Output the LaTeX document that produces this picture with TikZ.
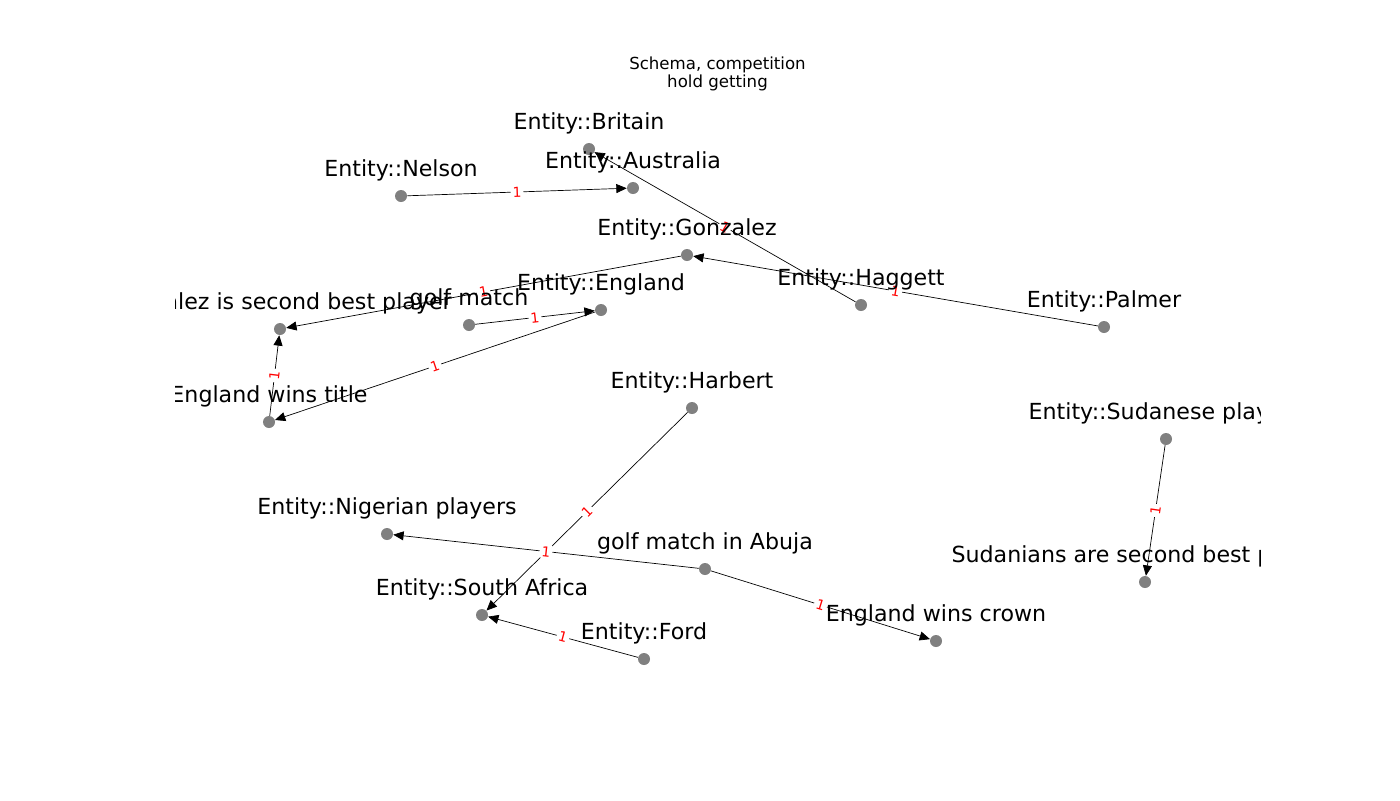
\documentclass[tikz,border=0pt]{standalone}
\usepackage{fontspec}
\setmainfont{DejaVu Sans}
\usetikzlibrary{arrows.meta}

\begin{document}
\begin{tikzpicture}[
    x=0.254mm, y=-0.254mm,
    vertex/.style={circle, fill=gray, minimum size=3.05mm, inner sep=0pt},
    vname/.style={anchor=base, yshift=4.9mm, inner sep=0pt, font=\fontsize{16}{19}\selectfont},
    edge/.style={-{Triangle[length=7.5pt, width=6.5pt]}, line width=0.5pt},
    wlabel/.style={sloped, midway, fill=white, text=red, inner sep=1.5pt, rounded corners=2pt, font=\fontsize{10}{12}\selectfont}
  ]
  \useasboundingbox (0,0) rectangle (1400,800);

  % Title
  \node[align=center, anchor=base, inner sep=0pt, font=\fontsize{12}{11.5}\selectfont] (title) at (717.5,87)
    {Schema, competition\\hold getting};

  \begin{scope}
  \clip (175,96) rectangle (1260,712);

  % Vertices
  \node[vertex] (britain) at (589,149) {};
  \node[vertex] (australia) at (633,188) {};
  \node[vertex] (nelson) at (401,196) {};
  \node[vertex] (gonzalez) at (687,255) {};
  \node[vertex] (haggett) at (861,305) {};
  \node[vertex] (palmer) at (1104,327) {};
  \node[vertex] (england) at (601,310) {};
  \node[vertex] (golf) at (469,325) {};
  \node[vertex] (gonzbest) at (280,329) {};
  \node[vertex] (engtitle) at (269,422) {};
  \node[vertex] (harbert) at (692,408) {};
  \node[vertex] (sudanese) at (1166,439) {};
  \node[vertex] (sudanians) at (1145,582) {};
  \node[vertex] (nigerian) at (387,534) {};
  \node[vertex] (abuja) at (705,569) {};
  \node[vertex] (safrica) at (482,615) {};
  \node[vertex] (ford) at (644,659) {};
  \node[vertex] (engcrown) at (936,641) {};

  % Edges with weights
  \draw[edge] (nelson) to node[wlabel] {1} (australia);
  \draw[edge] (haggett) to node[wlabel] {1} (britain);
  \draw[edge] (palmer) to node[wlabel] {1} (gonzalez);
  \draw[edge] (gonzalez) to node[wlabel] {1} (gonzbest);
  \draw[edge] (golf) to node[wlabel] {1} (england);
  \draw[edge] (england) to node[wlabel] {1} (engtitle);
  \draw[edge] (engtitle) to node[wlabel] {1} (gonzbest);
  \draw[edge] (harbert) to node[wlabel] {1} (safrica);
  \draw[edge] (abuja) to node[wlabel] {1} (nigerian);
  \draw[edge] (abuja) to node[wlabel] {1} (engcrown);
  \draw[edge] (ford) to node[wlabel] {1} (safrica);
  \draw[edge] (sudanese) to node[wlabel] {1} (sudanians);

  % Vertex names
  \node[vname] (britain-t) at (britain) {Entity::Britain};
  \node[vname] (australia-t) at (australia) {Entity::Australia};
  \node[vname] (nelson-t) at (nelson) {Entity::Nelson};
  \node[vname] (gonzalez-t) at (gonzalez) {Entity::Gonzalez};
  \node[vname] (haggett-t) at (haggett) {Entity::Haggett};
  \node[vname] (palmer-t) at (palmer) {Entity::Palmer};
  \node[vname] (england-t) at (england) {Entity::England};
  \node[vname] (golf-t) at (golf) {golf match};
  \node[vname] (gonzbest-t) at (gonzbest) {Gonzalez is second best player};
  \node[vname] (engtitle-t) at (engtitle) {England wins title};
  \node[vname] (harbert-t) at (harbert) {Entity::Harbert};
  \node[vname] (sudanese-t) at (sudanese) {Entity::Sudanese players};
  \node[vname] (sudanians-t) at (sudanians) {Sudanians are second best players};
  \node[vname] (nigerian-t) at (nigerian) {Entity::Nigerian players};
  \node[vname] (abuja-t) at (abuja) {golf match in Abuja};
  \node[vname] (safrica-t) at (safrica) {Entity::South Africa};
  \node[vname] (ford-t) at (ford) {Entity::Ford};
  \node[vname] (engcrown-t) at (engcrown) {England wins crown};
  \end{scope}
\end{tikzpicture}
\end{document}
